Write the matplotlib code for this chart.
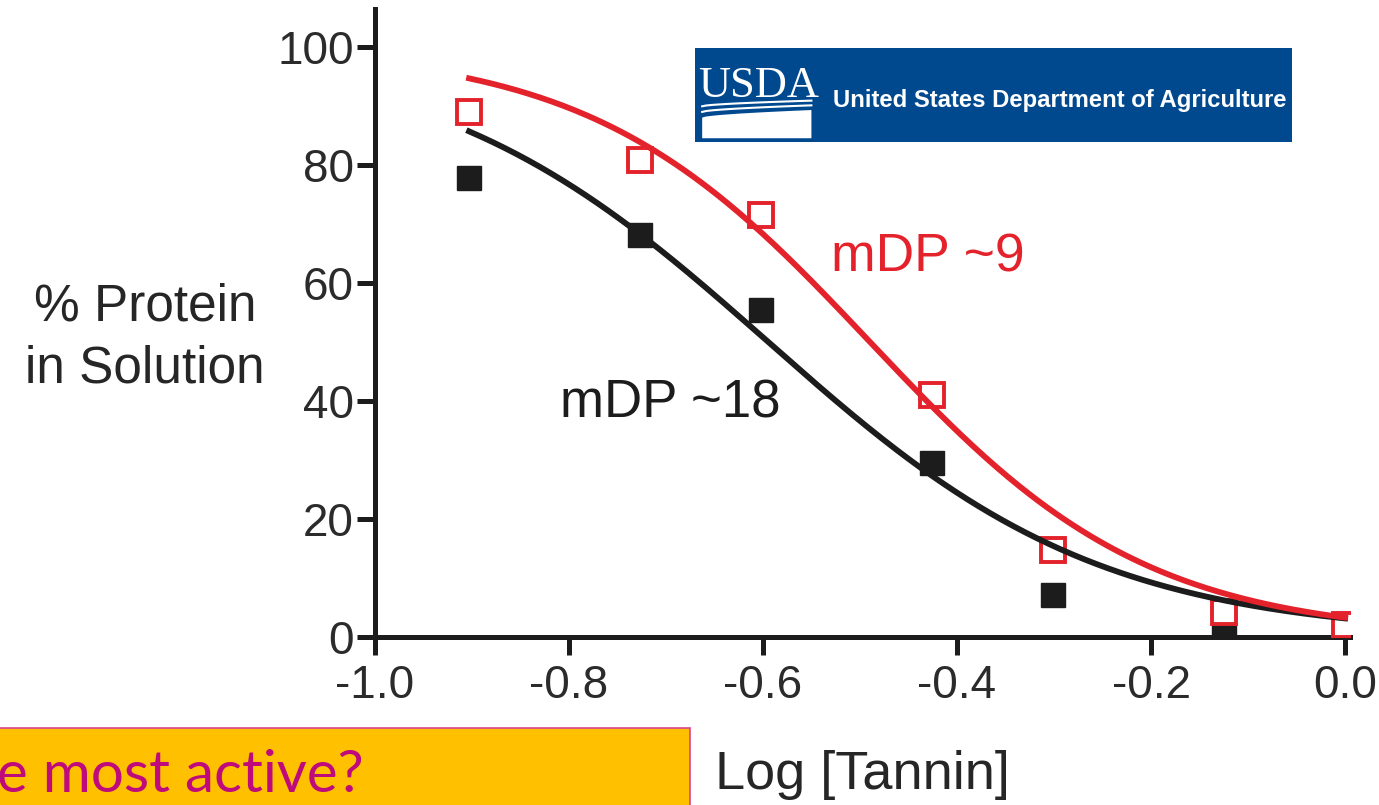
"""
Tannin protein precipitation: % protein in solution vs log [tannin]
"""
import matplotlib
matplotlib.use('Agg')
import matplotlib.pyplot as plt
import numpy as np
from matplotlib.patches import Rectangle, Polygon

# ============================================================
# data
# ============================================================
log_tannin = [-0.903, -0.727, -0.602, -0.426, -0.301, -0.125, 0.0]
protein_mdp18 = [77.8, 68.1, 55.4, 29.5, 7.0, 1.5, 1.0]
protein_mdp9 = [89.0, 80.8, 71.4, 41.0, 14.7, 4.2, 2.0]

# sigmoidal dose-response fits shown in the figure (top, bottom, logEC50, hill)
fit_mdp18 = (100.0, 0.0, -0.595, 2.52)
fit_mdp9 = (100.0, 0.0, -0.490, 3.02)

xticks = [-1.0, -0.8, -0.6, -0.4, -0.2, 0.0]
yticks = [0, 20, 40, 60, 80, 100]


def dose_response(x, top, bottom, logec50, hill):
    return bottom + (top - bottom) / (1 + 10 ** ((x - logec50) * hill))


RED = '#e3222b'
BLACK = '#1c1c1c'
plt.rcParams['font.family'] = ['Liberation Sans', 'DejaVu Sans']

fig = plt.figure(figsize=(13.79, 8.05), dpi=100)
ax = fig.add_axes([0.2719, 0.2093, 0.707, 0.7795])

xs = np.linspace(log_tannin[0], log_tannin[-1], 300)
ax.plot(log_tannin, protein_mdp18, 's', color=BLACK, markersize=17, zorder=3)
ax.plot(log_tannin, protein_mdp9, 's', mfc='white', mec=RED, mew=2.8, markersize=17, zorder=4)
ax.plot(xs, dose_response(xs, *fit_mdp18), '-', color=BLACK, lw=4.2, zorder=5)
ax.plot(xs, dose_response(xs, *fit_mdp9), '-', color=RED, lw=4.2, zorder=6)

ax.text(-0.530, 61.9, 'mDP ~9', color=RED, fontsize=38.5, ha='left', va='baseline')
ax.text(-0.809, 37.1, 'mDP ~18', color=BLACK, fontsize=38, ha='left', va='baseline')

ax.set_xlim(-1.0, 0.005)
ax.set_ylim(0, 106.4)
ax.set_xticks(xticks)
ax.set_xticklabels([f'{t:.1f}' for t in xticks])
ax.set_yticks(yticks)
for side in ['top', 'right']:
    ax.spines[side].set_visible(False)
for side in ['left', 'bottom']:
    ax.spines[side].set_linewidth(3.6)
    ax.spines[side].set_color(BLACK)
ax.tick_params(axis='both', direction='out', length=13, width=3.6, color=BLACK,
               labelsize=33, labelcolor='#2b2b2b')
ax.tick_params(axis='x', pad=7)
ax.tick_params(axis='y', pad=2)
ax.patch.set_visible(False)

ax.set_xlabel('Log [Tannin]', fontsize=39, color='#262626', labelpad=30)
fig.text(145 / 1379, 1 - 338 / 805, '% Protein\nin Solution', fontsize=37, color='#262626',
         ha='center', va='center', linespacing=1.32)

# ============================================================
# USDA logo banner
# ============================================================
logo = fig.add_axes([695 / 1379, 1 - 142 / 805, 597 / 1379, 94 / 805])
logo.set_xlim(0, 1)
logo.set_ylim(1, 0)
logo.set_facecolor('#00498f')
logo.set_xticks([])
logo.set_yticks([])
for s in logo.spines.values():
    s.set_visible(False)
logo.text(0.006, 0.52, 'USDA', color='white', fontsize=32, family='Liberation Serif',
          ha='left', va='baseline')
for y0, y1 in [(0.62, 0.56), (0.68, 0.61)]:
    t = np.linspace(0, 1, 30)
    logo.plot(0.012 + 0.183 * t, y0 + (y1 - y0) * t ** 0.6, color='white', lw=1.5)
bx = np.linspace(0.012, 0.195, 30)
top_edge = 0.74 - 0.08 * ((bx - 0.012) / 0.183) ** 0.6
logo.add_patch(Polygon(list(zip(bx, top_edge)) + [(0.195, 0.96), (0.012, 0.96)],
                       closed=True, color='white', lw=0))
logo.text(0.231, 0.56, 'United States Department of Agriculture', color='white',
          fontsize=17.2, fontweight='bold', ha='left', va='center')

# ============================================================
# question box (cut off on the left)
# ============================================================
fig.patches.append(Rectangle((-0.01, -0.05), 690 / 1379 + 0.01, (805 - 728) / 805 + 0.05,
                             transform=fig.transFigure, facecolor='#ffc000',
                             edgecolor='#d9458f', lw=1.2, zorder=0))
fig.text(-3 / 1379, 1 - 792 / 805, 'e most active?', fontsize=42, family=['Lato', 'DejaVu Sans'],
         color='#bf0a7c', ha='left', va='baseline')

fig.savefig('out.png', dpi=100)
print("Saved: out.png")
